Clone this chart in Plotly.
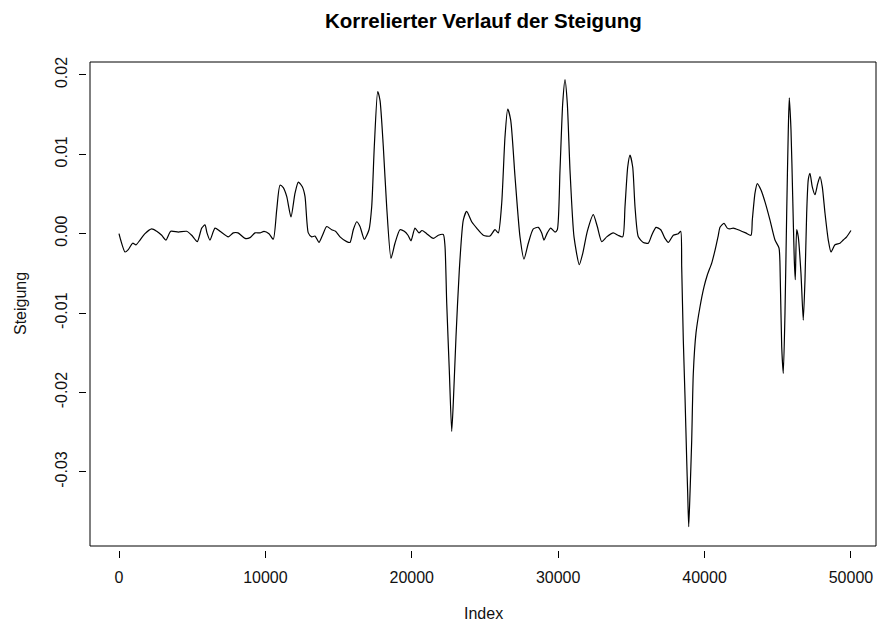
import plotly.graph_objects as go

# Steigung (slope) series, sampled at its turning points along the index
index = [
    0, 116, 410, 635, 936, 1161, 1435, 1776, 2234, 2575,
    2917, 3211, 3532, 4051, 4625, 4966, 5349, 5649, 5875, 6011,
    6216, 6558, 6900, 7466, 7808, 8129, 8607, 8949, 9290, 9632,
    9905, 10247, 10540, 10773, 10998, 11223, 11456, 11749, 12023, 12248,
    12521, 12706, 12931, 13163, 13389, 13662, 13901, 14188, 14530, 14789,
    15097, 15554, 15780, 16006, 16238, 16463, 16756, 17078, 17262, 17440,
    17672, 17829, 18054, 18286, 18580, 18853, 19194, 19488, 19741, 19946,
    20219, 20493, 20698, 21019, 21470, 21811, 22153, 22269, 22385, 22563,
    22727, 22836, 23020, 23246, 23519, 23751, 24093, 24434, 24885, 25343,
    25684, 25910, 26142, 26368, 26552, 26757, 27051, 27392, 27666, 27959,
    28301, 28642, 28874, 29032, 29257, 29489, 29783, 29940, 30125, 30309,
    30467, 30624, 30808, 31082, 31444, 31676, 31990, 32400, 32673, 32974,
    33315, 33766, 34087, 34408, 34565, 34750, 34907, 35091, 35248, 35474,
    35815, 36157, 36389, 36683, 37004, 37297, 37523, 37864, 38206, 38370,
    38438, 38548, 38664, 38780, 38848, 38917, 39005, 39122, 39231, 39416,
    39689, 39962, 40188, 40488, 40713, 40939, 41055, 41328, 41554, 41738,
    41964, 42421, 42810, 43172, 43261, 43445, 43602, 43855, 44128, 44470,
    44811, 45084, 45173, 45269, 45378, 45494, 45610, 45720, 45788, 45904,
    46020, 46129, 46197, 46293, 46402, 46586, 46743, 46860, 46976, 47085,
    47201, 47358, 47543, 47727, 47884, 48042, 48226, 48451, 48636, 48909,
    49250, 49476, 49708, 50000,
]

steigung = [
    0.0000, -0.0008, -0.0023, -0.0020, -0.0012, -0.0014, -0.0008, 0.0000, 0.0006, 0.0003,
    -0.0002, -0.0008, 0.0003, 0.0002, 0.0003, -0.0002, -0.0010, 0.0007, 0.0011, 0.0001,
    -0.0008, 0.0007, 0.0003, -0.0004, 0.0001, 0.0001, -0.0006, -0.0005, 0.0001, 0.0001,
    0.0003, 0.0000, -0.0007, 0.0030, 0.0061, 0.0058, 0.0047, 0.0021, 0.0051, 0.0065,
    0.0059, 0.0047, 0.0001, -0.0004, -0.0003, -0.0011, -0.0002, 0.0009, 0.0005, 0.0003,
    -0.0004, -0.0010, -0.0011, 0.0005, 0.0015, 0.0009, -0.0007, 0.0005, 0.0034, 0.0110,
    0.0179, 0.0168, 0.0110, 0.0034, -0.0031, -0.0012, 0.0005, 0.0003, -0.0002, -0.0009,
    0.0007, 0.0001, 0.0004, 0.0000, -0.0006, -0.0002, -0.0001, -0.0016, -0.0087, -0.0172,
    -0.0249, -0.0213, -0.0130, -0.0046, 0.0017, 0.0028, 0.0015, 0.0007, -0.0002, -0.0003,
    0.0005, 0.0001, 0.0038, 0.0122, 0.0157, 0.0143, 0.0072, -0.0004, -0.0032, -0.0012,
    0.0006, 0.0008, 0.0001, -0.0008, 0.0001, 0.0007, 0.0002, 0.0005, 0.0080, 0.0164,
    0.0194, 0.0164, 0.0080, -0.0004, -0.0039, -0.0025, 0.0003, 0.0024, 0.0009, -0.0010,
    -0.0004, 0.0001, -0.0002, -0.0004, 0.0034, 0.0084, 0.0099, 0.0084, 0.0034, -0.0004,
    -0.0011, -0.0012, -0.0002, 0.0008, 0.0005, -0.0006, -0.0011, -0.0002, 0.0000, 0.0003,
    -0.0042, -0.0134, -0.0205, -0.0285, -0.0327, -0.0369, -0.0327, -0.0260, -0.0176, -0.0125,
    -0.0092, -0.0067, -0.0052, -0.0037, -0.0021, -0.0002, 0.0008, 0.0013, 0.0007, 0.0006,
    0.0007, 0.0004, 0.0001, -0.0002, 0.0017, 0.0051, 0.0063, 0.0055, 0.0040, 0.0017,
    -0.0008, -0.0018, -0.0058, -0.0142, -0.0176, -0.0100, 0.0026, 0.0131, 0.0171, 0.0131,
    0.0047, -0.0033, -0.0058, 0.0005, -0.0004, -0.0050, -0.0109, -0.0058, 0.0026, 0.0068,
    0.0076, 0.0059, 0.0049, 0.0063, 0.0072, 0.0059, 0.0026, -0.0008, -0.0023, -0.0014,
    -0.0012, -0.0008, -0.0004, 0.0004,
]

x_ticks = [0, 10000, 20000, 30000, 40000, 50000]
x_tick_labels = ["0", "10000", "20000", "30000", "40000", "50000"]
y_ticks = [-0.03, -0.02, -0.01, 0.00, 0.01, 0.02]
y_tick_labels = ["-0.03", "-0.02", "-0.01", "0.00", "0.01", "0.02"]

FONT = "Liberation Sans, Arial, sans-serif"
INK = "#000000"

fig = go.Figure()
fig.add_trace(go.Scatter(
    x=index, y=steigung, mode="lines",
    line=dict(color=INK, width=1.2, shape="spline", smoothing=0.6),
    hoverinfo="skip", showlegend=False,
))

W, H = 877, 628
ml, mr, mt, mb = 86, 1, 62, 78
gap = 4
pw, ph = W - ml - mr, H - mt - mb

fig.update_layout(
    width=W, height=H,
    margin=dict(l=ml, r=mr, t=mt, b=mb, pad=0),
    paper_bgcolor="white", plot_bgcolor="white",
    font=dict(family=FONT, size=16, color=INK),
    xaxis=dict(
        domain=[gap / pw, 1], anchor="free", position=0,
        range=[-1981, 51711], showgrid=False, zeroline=False, showline=False,
        tickmode="array", tickvals=x_ticks, ticktext=x_tick_labels,
        ticks="outside", ticklen=7, tickwidth=1, tickcolor=INK,
        tickfont=dict(family=FONT, size=16, color="#111"),
        ticklabelstandoff=6,
    ),
    yaxis=dict(
        domain=[gap / ph, 1], anchor="free", position=0,
        range=[-0.03933, 0.02162], showgrid=False, zeroline=False, showline=False,
        tickmode="array", tickvals=y_ticks, ticktext=y_tick_labels,
        ticks="outside", ticklen=7, tickwidth=1, tickcolor=INK,
        tickangle=-90,
        tickfont=dict(family=FONT, size=16, color="#111"),
        ticklabelstandoff=6,
    ),
    shapes=[dict(
        type="rect", xref="x domain", yref="y domain",
        x0=0, x1=1, y0=0, y1=1, line=dict(color=INK, width=1),
    )],
    annotations=[
        dict(text="<b>Korrelierter Verlauf der Steigung</b>", showarrow=False,
             xref="x domain", yref="y domain", x=0.5, y=1,
             xanchor="center", yanchor="middle", yshift=42,
             font=dict(family=FONT, size=20.5, color=INK)),
        dict(text="Index", showarrow=False,
             xref="x domain", yref="y domain", x=0.5, y=0,
             xanchor="center", yanchor="middle", yshift=-67,
             font=dict(family=FONT, size=16, color="#111")),
        dict(text="Steigung", showarrow=False, textangle=-90,
             xref="x domain", yref="y domain", x=0, y=0.5,
             xanchor="center", yanchor="middle", xshift=-70,
             font=dict(family=FONT, size=16, color="#111")),
    ],
)

fig.write_html("out.html")
